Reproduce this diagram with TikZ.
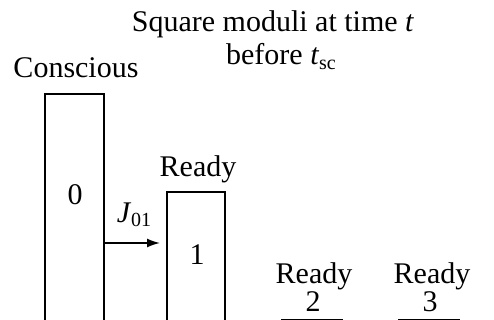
\documentclass[tikz,border=0pt]{standalone}
\usepackage{fontspec}
\setmainfont{Liberation Serif}
\usetikzlibrary{arrows.meta}
\tikzset{
  level/.style={draw, line width=1.6pt, rectangle, inner sep=0pt, anchor=north west,
                minimum width=#1, minimum height=320pt},
  level/.default=59pt,
  lbl/.style={inner sep=0pt, anchor=base, font=\fontsize{30}{34}\selectfont},
  hop/.style={line width=1.6pt, -{Latex[length=13pt,width=9pt]}}
}
\newcommand{\sub}[1]{\raisebox{-0.35ex}{\fontsize{20}{22}\selectfont #1}}
\begin{document}
\begin{tikzpicture}[x=1pt,y=-1pt]
  \useasboundingbox (0,0) rectangle (494,320);
  \clip (0,0) rectangle (494,320);
  % title
  \node[lbl] (title1) at (273,32) {Square moduli at time \textit{t}};
  \node[lbl] (title2) at (281,65) {before \textit{t}\sub{sc}};
  % level boxes, running off the bottom edge
  \node[level=59pt] (box0) at (44,93) {};
  \node[level=58pt] (box1) at (166,191) {};
  \node[level=60pt] (box2) at (281,319) {};
  \node[level=60pt] (box3) at (398,319) {};
  % headings
  \node[lbl] (head0) at (76,78) {Conscious};
  \node[lbl] (head1) at (198,177) {Ready};
  \node[lbl] (head2) at (314,283) {Ready};
  \node[lbl] (num2) at (313,311) {2};
  \node[lbl] (head3) at (432,283) {Ready};
  \node[lbl] (num3) at (430,311) {3};
  % box labels
  \node[lbl, anchor=center] (n0) at (75,195) {0};
  \node[lbl, anchor=center] (n1) at (197,255) {1};
  % transition
  \coordinate (ay) at (0,243);
  \draw[hop, shorten >=6pt] (box0.east |- ay) -- (box1.west |- ay);
  \node[lbl] (j01) at (134,222) {\textit{J}\sub{01}};
\end{tikzpicture}
\end{document}
